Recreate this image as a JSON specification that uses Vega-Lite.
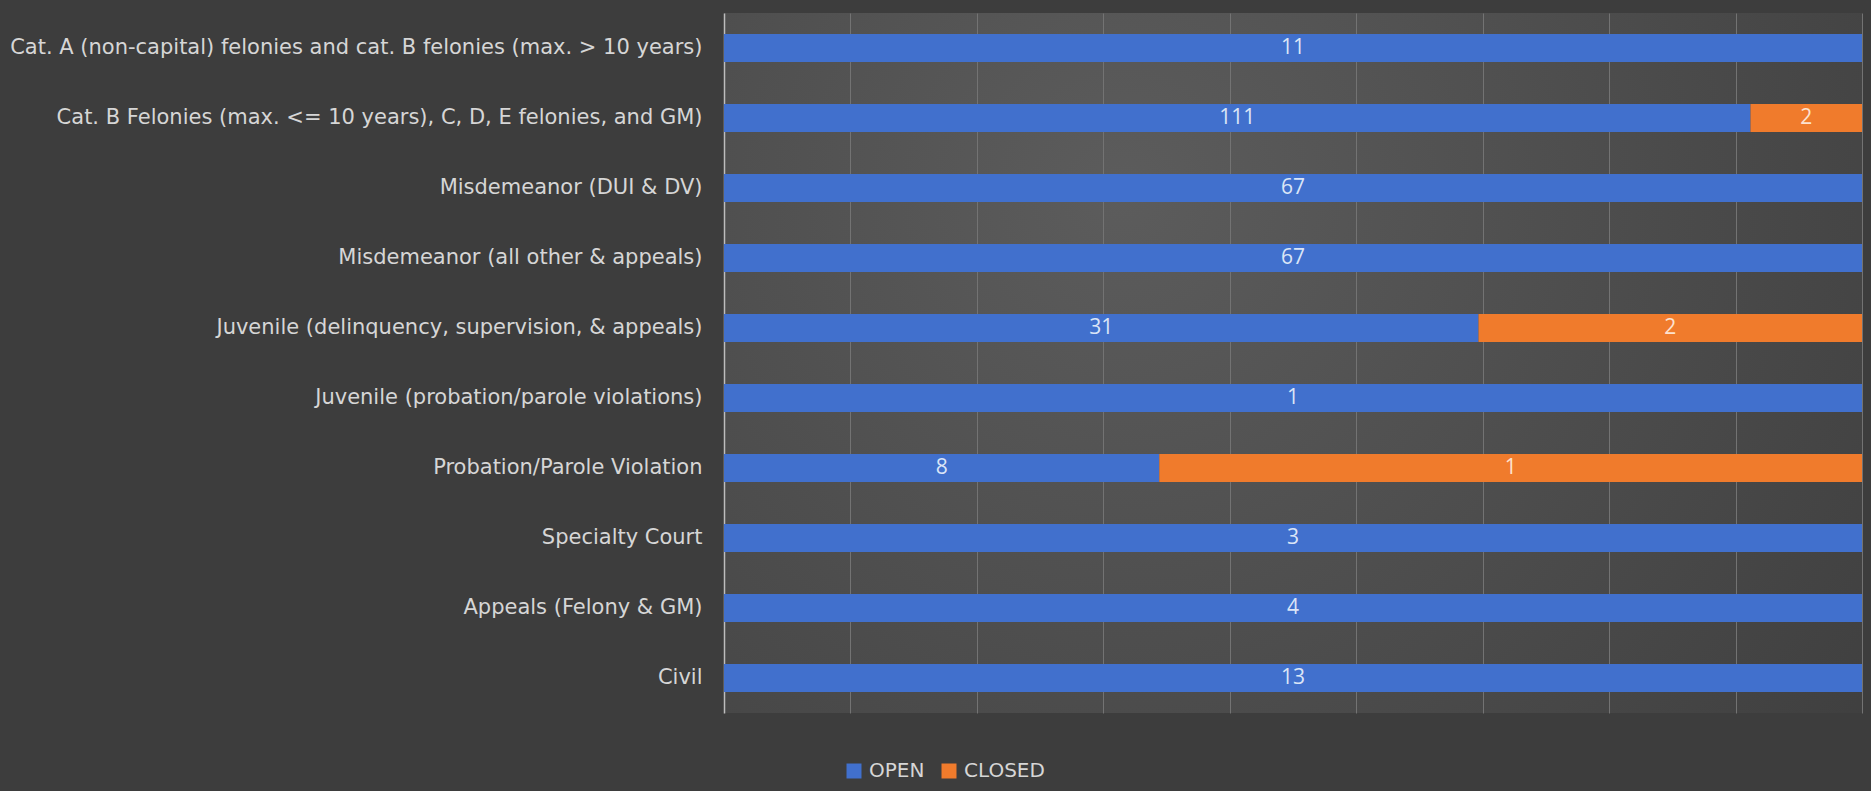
{
  "$schema": "https://vega.github.io/schema/vega-lite/v6.json",
  "width": 1138,
  "height": 700,
  "autosize": {"type": "none"},
  "padding": {"left": 724, "top": 13, "right": 9, "bottom": 78},
  "background": "#3d3d3d",
  "config": {
    "font": "DejaVu Sans",
    "view": {
      "stroke": null,
      "fill": {
        "gradient": "radial",
        "x1": 0.35, "y1": 0.35, "r1": 0,
        "x2": 0.35, "y2": 0.35, "r2": 0.9,
        "stops": [
          {"offset": 0, "color": "#5c5c5c"},
          {"offset": 1, "color": "#3c3c3c"}
        ]
      }
    }
  },
  "data": {
    "values": [
      {"category": "Cat. A (non-capital) felonies and cat. B felonies (max. > 10 years)", "status": "OPEN", "share": 1, "count": 11},
      {"category": "Cat. B Felonies (max. <= 10 years), C, D, E felonies, and GM)", "status": "OPEN", "share": 0.902, "count": 111},
      {"category": "Cat. B Felonies (max. <= 10 years), C, D, E felonies, and GM)", "status": "CLOSED", "share": 0.098, "count": 2},
      {"category": "Misdemeanor (DUI & DV)", "status": "OPEN", "share": 1, "count": 67},
      {"category": "Misdemeanor (all other & appeals)", "status": "OPEN", "share": 1, "count": 67},
      {"category": "Juvenile (delinquency, supervision, & appeals)", "status": "OPEN", "share": 0.663, "count": 31},
      {"category": "Juvenile (delinquency, supervision, & appeals)", "status": "CLOSED", "share": 0.337, "count": 2},
      {"category": "Juvenile (probation/parole violations)", "status": "OPEN", "share": 1, "count": 1},
      {"category": "Probation/Parole Violation", "status": "OPEN", "share": 0.3825, "count": 8},
      {"category": "Probation/Parole Violation", "status": "CLOSED", "share": 0.6175, "count": 1},
      {"category": "Specialty Court", "status": "OPEN", "share": 1, "count": 3},
      {"category": "Appeals (Felony & GM)", "status": "OPEN", "share": 1, "count": 4},
      {"category": "Civil", "status": "OPEN", "share": 1, "count": 13}
    ]
  },
  "transform": [
    {"stack": "share", "groupby": ["category"], "sort": [{"field": "status", "order": "descending"}], "as": ["x0", "x1"]},
    {"calculate": "(datum.x0 + datum.x1) / 2", "as": "mid"}
  ],
  "encoding": {
    "y": {
      "field": "category",
      "type": "nominal",
      "sort": null,
      "scale": {"paddingInner": 0.6, "paddingOuter": 0.3},
      "axis": {
        "title": null,
        "ticks": false,
        "domain": true,
        "domainColor": "#bdbdbd",
        "domainWidth": 1.5,
        "labelFont": "DejaVu Sans",
        "labelFontSize": 21,
        "labelColor": "#d6d6d6",
        "labelPadding": 22,
        "labelLimit": 720
      }
    }
  },
  "layer": [
    {
      "mark": {"type": "bar"},
      "encoding": {
        "x": {
          "field": "x0",
          "type": "quantitative",
          "scale": {"domain": [0, 1], "nice": false, "zero": true},
          "axis": {
            "title": null,
            "labels": false,
            "ticks": false,
            "domain": false,
            "grid": true,
            "gridColor": "#737373",
            "gridWidth": 1,
            "values": [0.1111, 0.2222, 0.3333, 0.4444, 0.5556, 0.6667, 0.7778, 0.8889, 1]
          }
        },
        "x2": {"field": "x1"},
        "color": {
          "field": "status",
          "type": "nominal",
          "scale": {"domain": ["OPEN", "CLOSED"], "range": ["#4170cd", "#f07b2c"]},
          "legend": {
            "title": null,
            "orient": "none",
            "legendX": 120,
            "legendY": 748,
            "direction": "horizontal",
            "symbolType": "square",
            "symbolSize": 225,
            "symbolStrokeWidth": 0,
            "labelFont": "DejaVu Sans",
            "labelFontSize": 20,
            "labelColor": "#d6d6d6",
            "labelOffset": 5,
            "columnPadding": 14
          }
        }
      }
    },
    {
      "mark": {"type": "text", "font": "Open Sans", "fontSize": 21, "baseline": "middle", "align": "center"},
      "encoding": {
        "x": {"field": "mid", "type": "quantitative"},
        "text": {"field": "count", "type": "quantitative"},
        "color": {
          "condition": {"test": "datum.status === 'CLOSED'", "value": "#fde2cf"},
          "value": "#dbe5f7"
        }
      }
    }
  ]
}
